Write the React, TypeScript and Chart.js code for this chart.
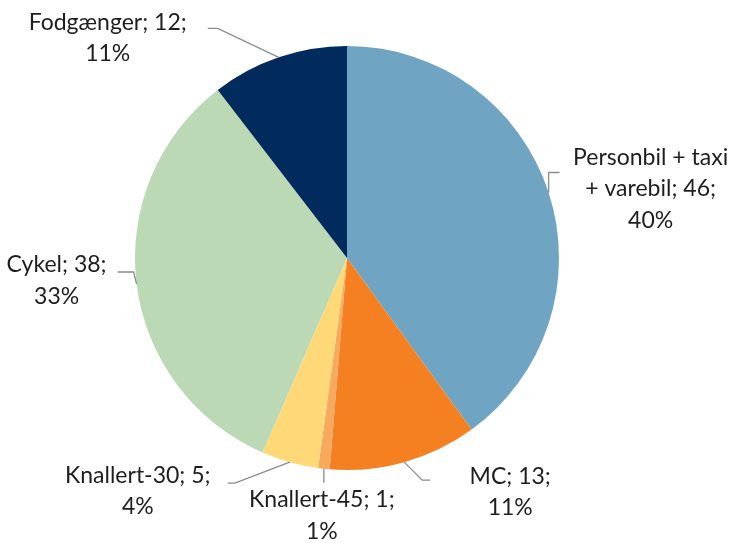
import React, { useEffect, useRef } from "react";
import { Chart, registerables } from "chart.js";

Chart.register(...registerables);

const categories = [
  "Personbil + taxi + varebil",
  "MC",
  "Knallert-45",
  "Knallert-30",
  "Cykel",
  "Fodgænger",
];
const values = [46, 13, 1, 5, 38, 12];
const percentLabels = ["40%", "11%", "1%", "4%", "33%", "11%"];
const labelLines = [
  ["Personbil + taxi", "+ varebil; 46;", "40%"],
  ["MC; 13;", "11%"],
  ["Knallert-45; 1;", "1%"],
  ["Knallert-30; 5;", "4%"],
  ["Cykel; 38;", "33%"],
  ["Fodgænger; 12;", "11%"],
];
const colors = ["#6FA5C3", "#F58022", "#F8A95C", "#FFD978", "#BCD9B5", "#002B5C"];

// leader-line elbows and label anchors, relative to the arc's outer mid point
const leaderOffsets: { pts: [number, number][]; text: [number, number] }[] = [
  { pts: [[0, -20], [11, -20]], text: [102, -35] },
  { pts: [[18, 18], [26, 18]], text: [106, 14] },
  { pts: [[0, 14]], text: [-2, 31] },
  { pts: [[-55, 21], [-62, 21]], text: [-152, 13] },
  { pts: [[-3, -12], [-19, -12]], text: [-80, -19] },
  { pts: [[-61, -29], [-71, -29]], text: [-171, -35] },
];

const labelPlugin = {
  id: "leaderLabels",
  afterDatasetsDraw(chart: any) {
    const ctx = chart.ctx as CanvasRenderingContext2D;
    const meta = chart.getDatasetMeta(0);
    meta.data.forEach((arc: any, i: number) => {
      const { x, y, outerRadius, startAngle, endAngle } = arc.getProps(
        ["x", "y", "outerRadius", "startAngle", "endAngle"],
        true
      );
      const mid = (startAngle + endAngle) / 2;
      const sx = x + Math.cos(mid) * outerRadius;
      const sy = y + Math.sin(mid) * outerRadius;
      const off = leaderOffsets[i];
      ctx.save();
      ctx.strokeStyle = "#8C8C8C";
      ctx.lineWidth = 1.3;
      ctx.beginPath();
      ctx.moveTo(sx, sy);
      off.pts.forEach(([dx, dy]) => ctx.lineTo(sx + dx, sy + dy));
      ctx.stroke();
      ctx.fillStyle = "#1E1E1E";
      ctx.font = "23px Lato";
      ctx.textAlign = "center";
      ctx.textBaseline = "middle";
      const lines = labelLines[i];
      lines.forEach((t, j) => {
        ctx.fillText(t, sx + off.text[0], sy + off.text[1] + j * 31.5);
      });
      ctx.restore();
    });
  },
};

export default function App() {
  const ref = useRef<HTMLCanvasElement | null>(null);
  useEffect(() => {
    document.body.style.margin = "0";
    const chart = new Chart(ref.current!, {
      type: "pie",
      data: {
        labels: categories,
        datasets: [
          {
            data: values,
            backgroundColor: colors,
            borderWidth: 0,
          },
        ],
      },
      options: {
        animation: false,
        responsive: false,
        layout: { padding: { left: 135, right: 170, top: 46, bottom: 73 } },
        plugins: {
          legend: { display: false },
          tooltip: { enabled: false },
        },
      },
      plugins: [labelPlugin],
    });
    return () => chart.destroy();
  }, []);
  return (
    <div style={{ width: 729, height: 543, background: "#fff" }}>
      <canvas ref={ref} width={729} height={543} />
    </div>
  );
}
